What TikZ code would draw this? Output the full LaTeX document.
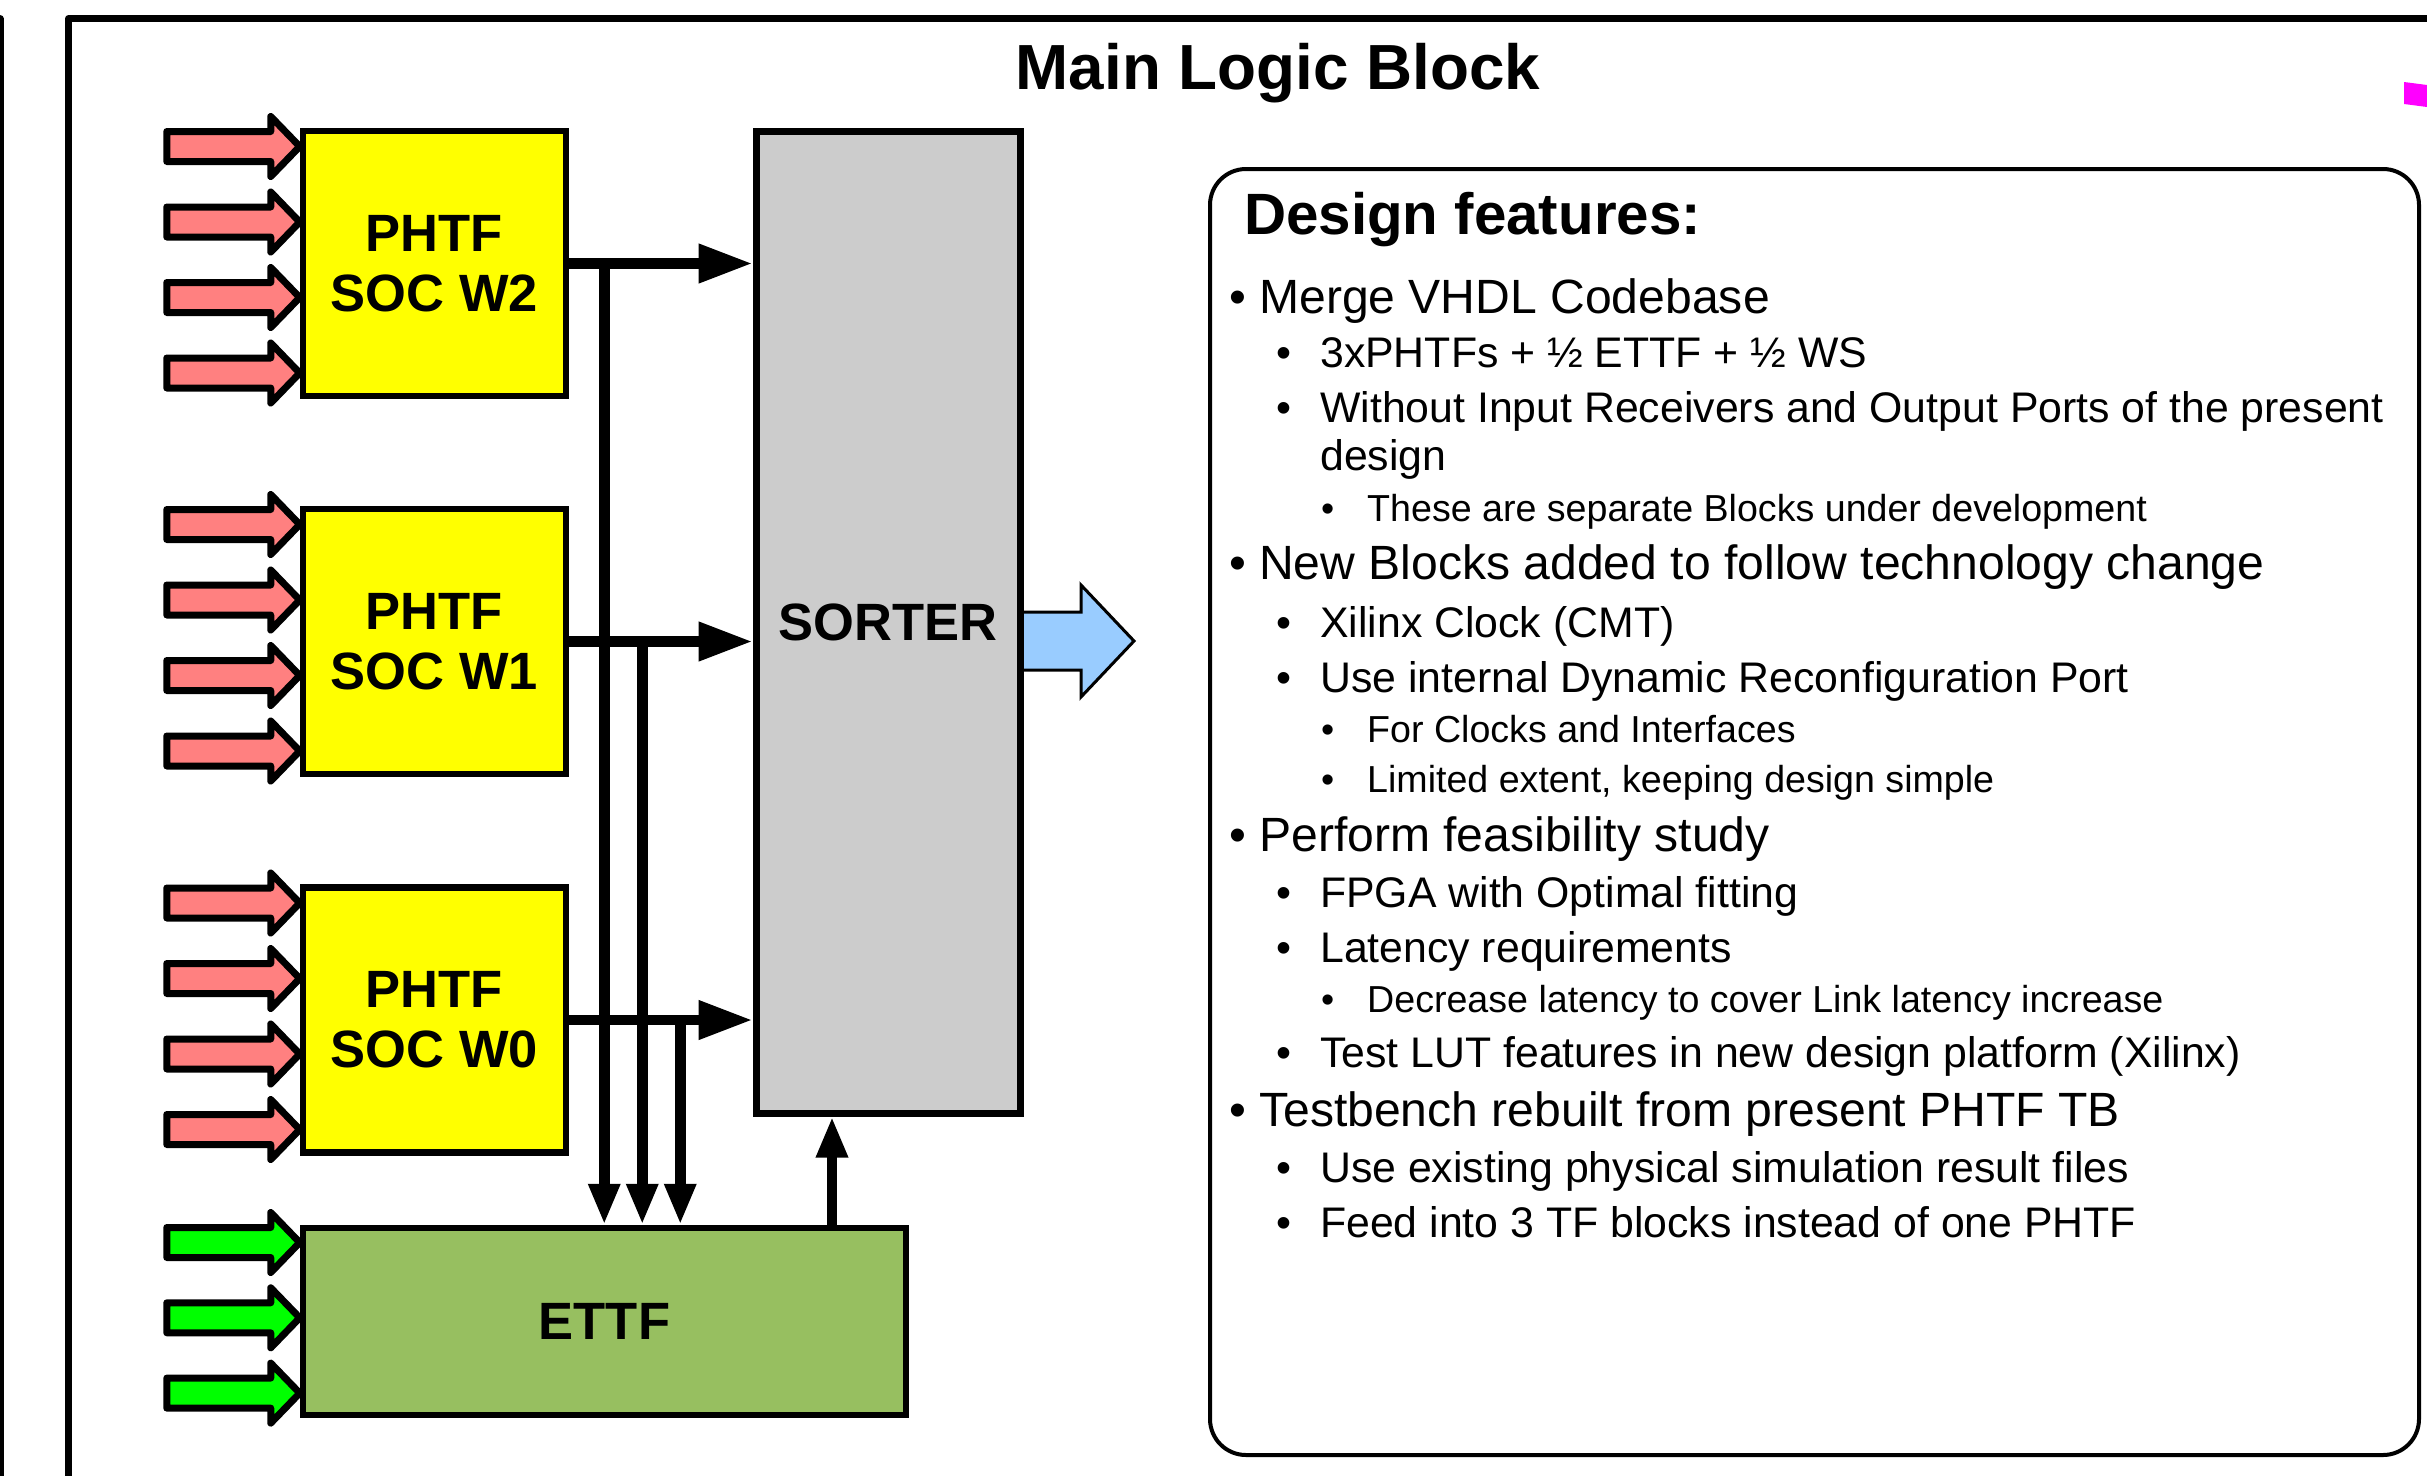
\documentclass[tikz,border=0pt]{standalone}
\usepackage{fontspec}
\setmainfont{Liberation Sans}
\usetikzlibrary{arrows.meta,calc}

\definecolor{inred}{HTML}{FF8080}
\definecolor{ingreen}{HTML}{00FF00}
\definecolor{socyellow}{HTML}{FFFF00}
\definecolor{sortgrey}{HTML}{CCCCCC}
\definecolor{ettfgreen}{HTML}{97BF60}
\definecolor{outblue}{HTML}{99CCFF}
\definecolor{edgemag}{RGB}{255,0,255}

\begin{document}
\begin{tikzpicture}[x=1pt,y=-1pt,
  block/.style={draw=black, line width=6.5pt, inner sep=0pt, align=center,
    font=\fontsize{52.5}{60}\selectfont\bfseries},
  socbox/.style={block, fill=socyellow, minimum width=263pt, minimum height=265pt},
  hbus/.style={line width=10.5pt, -{Triangle[length=54pt,width=37pt]}},
  vbus/.style={line width=10.5pt, -{Triangle[length=41pt,width=29.5pt]}},
  pics/inarrow/.style={code={
    \draw[line width=7pt, line join=round, fill=#1]
      (-133,-15) -- (-29,-15) -- (-29,-30) -- (0,0) -- (-29,30) -- (-29,15) -- (-133,15) -- cycle;}},
  ttl/.style={anchor=base west, inner sep=0pt, font=\fontsize{58.3}{68}\selectfont\bfseries},
  lvA/.style={anchor=base west, inner sep=0pt, font=\fontsize{48.1}{58}\selectfont},
  lvB/.style={anchor=base west, inner sep=0pt, font=\fontsize{42.8}{50}\selectfont},
  lvC/.style={anchor=base west, inner sep=0pt, font=\fontsize{37.6}{45}\selectfont},
]
\useasboundingbox (0,0) rectangle (2427,1475);
\clip (0,0) rectangle (2427,1475);

% slide frames
\draw[line width=7pt, line join=round] (-50,18.5) -- (0,18.5) -- (0,1520);
\draw[line width=6.5pt, line join=round] (68.5,1520) -- (68.5,18.5) -- (2480,18.5);
\fill[edgemag] (2404,82) -- (2427,85) -- (2427,107) -- (2404,104) -- cycle;

\node[anchor=base, inner sep=0pt, font=\fontsize{63.8}{72}\selectfont\bfseries] (title) at (1278,89) {Main Logic Block};

% output arrow of the sorter (drawn first so the sorter border stays on top)
\draw[line width=3pt, line join=miter, fill=outblue]
  (1020,612) -- (1081,612) -- (1081,585) -- (1134,641) -- (1081,697) -- (1081,670) -- (1020,670);

% blocks
\node[socbox] (w2) at (434.5,263.5) {PHTF\\SOC W2};
\node[socbox] (w1) at (434.5,641.5) {PHTF\\SOC W1};
\node[socbox] (w0) at (434.5,1020) {PHTF\\SOC W0};
\node[block, fill=sortgrey, line width=7pt, minimum width=264pt, minimum height=982pt] (sorter) at (888,622) {SORTER};
\node[block, fill=ettfgreen, minimum width=603pt, minimum height=187pt] (ettf) at (604.5,1321.5) {ETTF};

% input links
\foreach \b in {w2,w1,w0}
  \foreach \d in {-117,-41.5,34,109.5}
    \pic at ($(\b.west)+(0,\d)$) {inarrow=inred};
\foreach \d in {-79,-3.7,71.6}
  \pic at ($(ettf.west)+(0,\d)$) {inarrow=ingreen};

% buses into the sorter and down to the ETTF
\draw[hbus] (w2.east) -- (w2.east -| sorter.west);
\draw[hbus] (w1.east) -- (w1.east -| sorter.west);
\draw[hbus] (w0.east) -- (w0.east -| sorter.west);
\path (w2.east) ++(35,0) coordinate (b1);
\path (w1.east) ++(73,0) coordinate (b2);
\path (w0.east) ++(111,0) coordinate (b3);
\draw[vbus] (b1) -- (b1 |- ettf.north);
\draw[vbus] (b2) -- (b2 |- ettf.north);
\draw[vbus] (b3) -- (b3 |- ettf.north);
\coordinate (sx) at (832,0);
\draw[vbus] (sx |- ettf.north) -- (sx |- sorter.south);

% feature list
\draw[line width=4pt, rounded corners=36pt] (1210,169) rectangle (2419,1455);
\node[ttl] (f0) at (1244,234) {Design features:};

\node[lvA] (p1) at (1229.6,313) {•};
\node[lvA] (t1) at (1259,313) {Merge VHDL Codebase};
\node[lvB] (p2) at (1276,367) {•};
\node[lvB] (t2) at (1320,367) {3xPHTFs + ½ ETTF + ½ WS};
\node[lvB] (p3) at (1276,422) {•};
\node[lvB] (t3) at (1320,422) {Without Input Receivers and Output Ports of the present};
\node[lvB] (t3b) at (1320,470) {design};
\node[lvC] (p4) at (1321,521) {•};
\node[lvC] (t4) at (1367,521) {These are separate Blocks under development};

\node[lvA] (p5) at (1229.6,579) {•};
\node[lvA] (t5) at (1259,579) {New Blocks added to follow technology change};
\node[lvB] (p6) at (1276,637) {•};
\node[lvB] (t6) at (1320,637) {Xilinx Clock (CMT)};
\node[lvB] (p7) at (1276,692) {•};
\node[lvB] (t7) at (1320,692) {Use internal Dynamic Reconfiguration Port};
\node[lvC] (p8) at (1321,742) {•};
\node[lvC] (t8) at (1367,742) {For Clocks and Interfaces};
\node[lvC] (p9) at (1321,792) {•};
\node[lvC] (t9) at (1367,792) {Limited extent, keeping design simple};

\node[lvA] (p10) at (1229.6,851) {•};
\node[lvA] (t10) at (1259,851) {Perform feasibility study};
\node[lvB] (p11) at (1276,907) {•};
\node[lvB] (t11) at (1320,907) {FPGA with Optimal fitting};
\node[lvB] (p12) at (1276,962) {•};
\node[lvB] (t12) at (1320,962) {Latency requirements};
\node[lvC] (p13) at (1321,1012) {•};
\node[lvC] (t13) at (1367,1012) {Decrease latency to cover Link latency increase};
\node[lvB] (p14) at (1276,1067) {•};
\node[lvB] (t14) at (1320,1067) {Test LUT features in new design platform (Xilinx)};

\node[lvA] (p15) at (1229.6,1126) {•};
\node[lvA] (t15) at (1259,1126) {Testbench rebuilt from present PHTF TB};
\node[lvB] (p16) at (1276,1182) {•};
\node[lvB] (t16) at (1320,1182) {Use existing physical simulation result files};
\node[lvB] (p17) at (1276,1237) {•};
\node[lvB] (t17) at (1320,1237) {Feed into 3 TF blocks instead of one PHTF};
\end{tikzpicture}
\end{document}
